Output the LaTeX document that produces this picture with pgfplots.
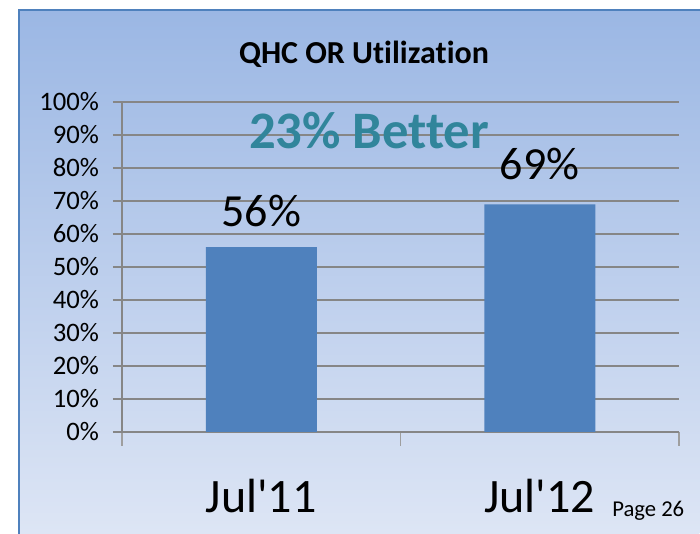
\documentclass[border=0pt]{standalone}
\usepackage{fontspec}
\setmainfont{Carlito}[Ligatures={NoCommon}]
\usepackage{pgfplots}
\pgfplotsset{compat=1.18}
\definecolor{barblue}{RGB}{79,129,189}
\definecolor{bordblue}{RGB}{79,129,189}
\definecolor{bgtop}{RGB}{155,183,228}
\definecolor{bgbot}{RGB}{222,230,245}
\definecolor{tealtxt}{RGB}{49,133,155}
\definecolor{gridgray}{RGB}{134,134,134}
\begin{document}
\begin{tikzpicture}
\useasboundingbox (0,0) rectangle (525pt,400.5pt);
\fill[white] (0,0) rectangle (525pt,400.5pt);
\shade[top color=bgtop,bottom color=bgbot] (14.25pt,-5pt) rectangle (524.5pt,393pt);
\draw[bordblue,line width=1.5pt] (14.25pt,-5pt) -- (14.25pt,393pt) -- (526pt,393pt);
\node[font=\bfseries\fontsize{24pt}{27pt}\selectfont,anchor=base] at (273pt,353pt) {QHC OR Utilization};
\node[font=\fontsize{17pt}{19pt}\selectfont,anchor=base west,inner sep=0pt] at (459pt,12.75pt) {Page 26};
\begin{axis}[
  at={(91.5pt,76.5pt)}, anchor=south west,
  scale only axis, width=417.75pt, height=247.5pt,
  xmin=-0.5, xmax=1.5, ymin=0, ymax=100,
  axis x line*=bottom, axis y line*=left,
  axis line style={gridgray,line width=0.9pt,-},
  ytick={0,10,...,100},
  yticklabel={\pgfmathprintnumber{\tick}\%},
  ymajorgrids, grid style={gridgray,line width=0.9pt},
  tick align=outside, major tick length=6.75pt, minor tick length=10.5pt,
  tick style={gridgray,line width=0.9pt},
  xtick={0,1}, xticklabels={Jul\textquotesingle11,Jul\textquotesingle12},
  major x tick style={draw=none},
  minor x tick style={gridgray!80,line width=0.8pt},
  minor xtick={-0.5,0.5,1.5},
  /pgf/number format/assume math mode=true,
  yticklabel style={font=\fontsize{20pt}{22pt}\selectfont, xshift=-7pt},
  xticklabel style={font=\fontsize{36pt}{40pt}\selectfont, anchor=base, yshift=-54pt},
  clip=false,
]
\addplot[ybar, fill=barblue, draw=none, bar width=83.25pt] coordinates {(0,56) (1,69)};
\node[font=\fontsize{34.5pt}{38pt}\selectfont,anchor=base] at (axis cs:0,62.4) {56\%};
\node[font=\fontsize{34.5pt}{38pt}\selectfont,anchor=base] at (axis cs:1,76.4) {69\%};
\node[font=\bfseries\fontsize{39.5pt}{42pt}\selectfont,anchor=base,text=tealtxt] at (axis cs:0.387,85.8) {23\% Better};
\end{axis}
\end{tikzpicture}
\end{document}
